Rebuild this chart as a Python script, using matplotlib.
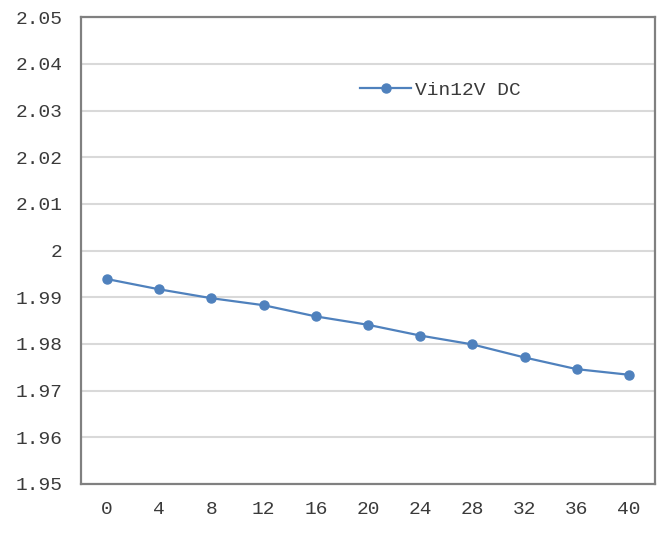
import matplotlib
matplotlib.use("Agg")
import matplotlib.pyplot as plt
from matplotlib.ticker import MultipleLocator, FuncFormatter

categories = ["0", "4", "8", "12", "16", "20", "24", "28", "32", "36", "40"]
vin12v_dc = [1.9939, 1.9917, 1.9898, 1.9883, 1.9859, 1.9841, 1.9818, 1.9799, 1.9771, 1.9746, 1.9734]
series_name = "Vin12V DC"
y_min, y_max, y_step = 1.95, 2.05, 0.01

plt.rcParams["font.family"] = ["Liberation Mono", "DejaVu Sans Mono"]
text_color = "#3A3A3A"
line_color = "#4F81BD"

fig = plt.figure(figsize=(6.64, 5.38), dpi=100)
ax = fig.add_axes([0.122, 0.1004, 0.8645, 0.8676])

x = list(range(len(categories)))
ax.plot(x, vin12v_dc, color=line_color, lw=1.6, marker="o", ms=6.5,
        label=series_name, zorder=3)

ax.set_xlim(-0.5, len(categories) - 0.5)
ax.set_ylim(y_min, y_max)
ax.yaxis.set_major_locator(MultipleLocator(y_step))
ax.yaxis.set_major_formatter(FuncFormatter(lambda v, p: f"{v:.2f}".rstrip("0").rstrip(".")))
ax.set_xticks(x)
ax.set_xticklabels(categories)

ax.grid(axis="y", color="#D9D9D9", lw=1.5, zorder=0)
ax.tick_params(axis="both", length=0, labelsize=14, colors=text_color)
ax.tick_params(axis="x", pad=12)
ax.tick_params(axis="y", pad=13.5)
for s in ax.spines.values():
    s.set_color("#808080")
    s.set_linewidth(1.6)

ax.legend(loc="upper left", bbox_to_anchor=(0.456, 0.9), frameon=False,
          fontsize=14, handlelength=2.6, handletextpad=0.2,
          labelcolor=text_color)

fig.savefig("out.png", dpi=100, facecolor="white")
